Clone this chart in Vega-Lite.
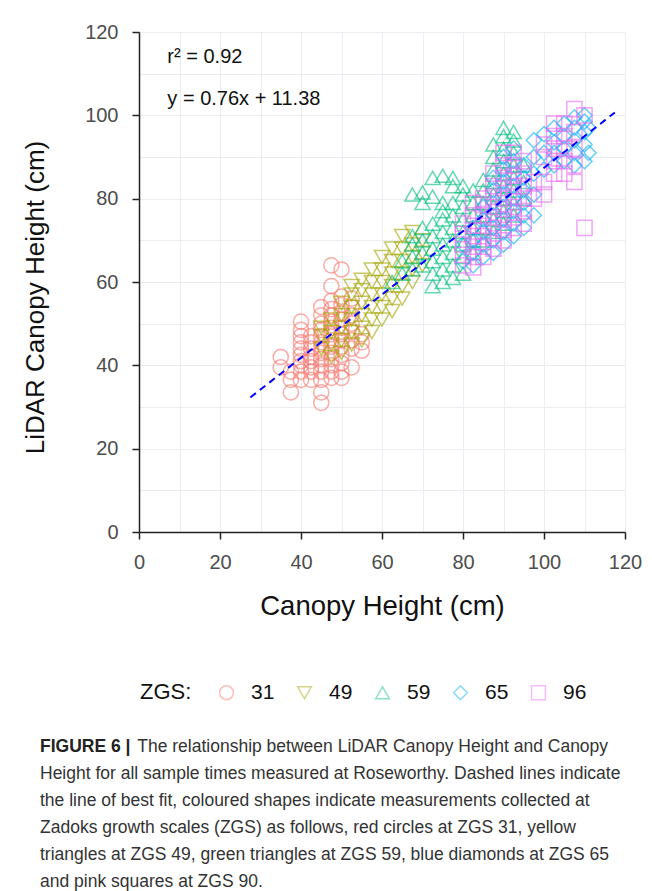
{
  "$schema": "https://vega.github.io/schema/vega-lite/v6.json",
  "width": 486,
  "height": 500,
  "autosize": {"type": "none"},
  "padding": {"left": 139, "top": 32, "right": 27, "bottom": 359},
  "background": "white",
  "config": {
    "font": "Liberation Sans",
    "view": {"stroke": null},
    "axis": {
      "grid": true,
      "gridColor": "#ebedf3",
      "gridWidth": 1,
      "domainColor": "#222222",
      "domainWidth": 1.5,
      "tickColor": "#222222",
      "tickWidth": 1.5,
      "tickSize": 7,
      "labelFontSize": 20,
      "labelColor": "#4d4d4d",
      "labelOverlap": false,
      "labelFlush": false,
      "titleFontWeight": "normal",
      "titleColor": "#111111"
    },
    "legend": {
      "orient": "none",
      "legendX": 1,
      "legendY": 650,
      "direction": "horizontal",
      "titleOrient": "left",
      "titleFontSize": 22,
      "titleFontWeight": "normal",
      "titleColor": "#111111",
      "titlePadding": 24,
      "titleBaseline": "middle",
      "labelFontSize": 21,
      "labelColor": "#111111",
      "labelOffset": 14,
      "columnPadding": 19,
      "symbolSize": 190,
      "symbolStrokeWidth": 1.5,
      "symbolOpacity": 0.45
    }
  },
  "title": {
    "text": "FIGURE 6 |",
    "subtitle": [
      "\u200b\u00a0\u00a0\u00a0\u00a0\u00a0\u00a0\u00a0\u00a0\u00a0\u00a0\u00a0\u00a0\u00a0\u00a0\u00a0\u00a0\u00a0\u00a0\u00a0\u00a0The relationship between LiDAR Canopy Height and Canopy",
      "Height for all sample times measured at Roseworthy. Dashed lines indicate",
      "the line of best fit, coloured shapes indicate measurements collected at",
      "Zadoks growth scales (ZGS) as follows, red circles at ZGS 31, yellow",
      "triangles at ZGS 49, green triangles at ZGS 59, blue diamonds at ZGS 65",
      "and pink squares at ZGS 90."
    ],
    "orient": "bottom",
    "anchor": "start",
    "frame": "group",
    "dx": -99,
    "offset": 35,
    "font": "Liberation Sans",
    "fontSize": 17.5,
    "fontWeight": "bold",
    "color": "#222222",
    "subtitleFont": "Liberation Sans",
    "subtitleFontSize": 17.5,
    "subtitleColor": "#333333",
    "subtitleLineHeight": 27,
    "subtitlePadding": -17.5,
    "limit": 1000
  },
  "datasets": {
    "pts": [
      {"canopy":35,"lidar":39.5,"zgs":"31"},{"canopy":35,"lidar":42,"zgs":"31"},
      {"canopy":37.5,"lidar":33.5,"zgs":"31"},{"canopy":37.5,"lidar":36.5,"zgs":"31"},{"canopy":37.5,"lidar":38.5,"zgs":"31"},
      {"canopy":40,"lidar":50.5,"zgs":"31"},{"canopy":40,"lidar":48.5,"zgs":"31"},{"canopy":40,"lidar":47,"zgs":"31"},{"canopy":40,"lidar":45.5,"zgs":"31"},{"canopy":40,"lidar":44,"zgs":"31"},{"canopy":40,"lidar":42.5,"zgs":"31"},{"canopy":40,"lidar":41,"zgs":"31"},{"canopy":40,"lidar":40,"zgs":"31"},{"canopy":40,"lidar":38.5,"zgs":"31"},{"canopy":40,"lidar":36.5,"zgs":"31"},
      {"canopy":42.5,"lidar":47,"zgs":"31"},{"canopy":42.5,"lidar":45.5,"zgs":"31"},{"canopy":42.5,"lidar":44,"zgs":"31"},{"canopy":42.5,"lidar":42,"zgs":"31"},{"canopy":42.5,"lidar":41,"zgs":"31"},{"canopy":42.5,"lidar":39.5,"zgs":"31"},{"canopy":42.5,"lidar":38.5,"zgs":"31"},{"canopy":42.5,"lidar":36.5,"zgs":"31"},
      {"canopy":45,"lidar":54,"zgs":"31"},{"canopy":45,"lidar":52,"zgs":"31"},{"canopy":45,"lidar":50,"zgs":"31"},{"canopy":45,"lidar":48.5,"zgs":"31"},{"canopy":45,"lidar":47,"zgs":"31"},{"canopy":45,"lidar":45.5,"zgs":"31"},{"canopy":45,"lidar":44,"zgs":"31"},{"canopy":45,"lidar":43,"zgs":"31"},{"canopy":45,"lidar":41.5,"zgs":"31"},{"canopy":45,"lidar":40,"zgs":"31"},{"canopy":45,"lidar":38.5,"zgs":"31"},{"canopy":45,"lidar":36.5,"zgs":"31"},{"canopy":45,"lidar":33.5,"zgs":"31"},{"canopy":45,"lidar":31,"zgs":"31"},
      {"canopy":47.5,"lidar":64,"zgs":"31"},{"canopy":47.5,"lidar":59,"zgs":"31"},{"canopy":47.5,"lidar":55.5,"zgs":"31"},{"canopy":47.5,"lidar":53.5,"zgs":"31"},{"canopy":47.5,"lidar":52,"zgs":"31"},{"canopy":47.5,"lidar":50.5,"zgs":"31"},{"canopy":47.5,"lidar":49,"zgs":"31"},{"canopy":47.5,"lidar":47.5,"zgs":"31"},{"canopy":47.5,"lidar":46,"zgs":"31"},{"canopy":47.5,"lidar":44.5,"zgs":"31"},{"canopy":47.5,"lidar":43,"zgs":"31"},{"canopy":47.5,"lidar":41.5,"zgs":"31"},{"canopy":47.5,"lidar":40,"zgs":"31"},{"canopy":47.5,"lidar":38.5,"zgs":"31"},{"canopy":47.5,"lidar":37,"zgs":"31"},
      {"canopy":50,"lidar":63,"zgs":"31"},{"canopy":50,"lidar":56.5,"zgs":"31"},{"canopy":50,"lidar":54.5,"zgs":"31"},{"canopy":50,"lidar":52.5,"zgs":"31"},{"canopy":50,"lidar":51,"zgs":"31"},{"canopy":50,"lidar":49,"zgs":"31"},{"canopy":50,"lidar":47.5,"zgs":"31"},{"canopy":50,"lidar":46,"zgs":"31"},{"canopy":50,"lidar":44.5,"zgs":"31"},{"canopy":50,"lidar":42.5,"zgs":"31"},{"canopy":50,"lidar":40.5,"zgs":"31"},{"canopy":50,"lidar":38.5,"zgs":"31"},{"canopy":50,"lidar":37,"zgs":"31"},
      {"canopy":52.5,"lidar":56,"zgs":"31"},{"canopy":52.5,"lidar":54,"zgs":"31"},{"canopy":52.5,"lidar":52,"zgs":"31"},{"canopy":52.5,"lidar":50,"zgs":"31"},{"canopy":52.5,"lidar":48,"zgs":"31"},{"canopy":52.5,"lidar":46,"zgs":"31"},{"canopy":52.5,"lidar":44,"zgs":"31"},{"canopy":52.5,"lidar":39.5,"zgs":"31"},
      {"canopy":55,"lidar":47.5,"zgs":"31"},{"canopy":55,"lidar":45.5,"zgs":"31"},{"canopy":55,"lidar":43.5,"zgs":"31"},

      {"canopy":45,"lidar":44,"zgs":"49"},{"canopy":45,"lidar":47,"zgs":"49"},{"canopy":45,"lidar":49,"zgs":"49"},
      {"canopy":47.5,"lidar":42,"zgs":"49"},{"canopy":47.5,"lidar":45,"zgs":"49"},{"canopy":47.5,"lidar":48,"zgs":"49"},{"canopy":47.5,"lidar":51,"zgs":"49"},
      {"canopy":50,"lidar":43,"zgs":"49"},{"canopy":50,"lidar":46,"zgs":"49"},{"canopy":50,"lidar":49,"zgs":"49"},{"canopy":50,"lidar":52,"zgs":"49"},{"canopy":50,"lidar":55,"zgs":"49"},
      {"canopy":52.5,"lidar":45,"zgs":"49"},{"canopy":52.5,"lidar":48,"zgs":"49"},{"canopy":52.5,"lidar":51,"zgs":"49"},{"canopy":52.5,"lidar":54,"zgs":"49"},{"canopy":52.5,"lidar":57,"zgs":"49"},{"canopy":52.5,"lidar":59,"zgs":"49"},
      {"canopy":55,"lidar":46,"zgs":"49"},{"canopy":55,"lidar":49,"zgs":"49"},{"canopy":55,"lidar":52,"zgs":"49"},{"canopy":55,"lidar":55,"zgs":"49"},{"canopy":55,"lidar":58,"zgs":"49"},{"canopy":55,"lidar":60.5,"zgs":"49"},
      {"canopy":57.5,"lidar":48,"zgs":"49"},{"canopy":57.5,"lidar":51,"zgs":"49"},{"canopy":57.5,"lidar":54,"zgs":"49"},{"canopy":57.5,"lidar":57,"zgs":"49"},{"canopy":57.5,"lidar":60,"zgs":"49"},{"canopy":57.5,"lidar":63,"zgs":"49"},
      {"canopy":60,"lidar":51,"zgs":"49"},{"canopy":60,"lidar":54,"zgs":"49"},{"canopy":60,"lidar":57,"zgs":"49"},{"canopy":60,"lidar":60,"zgs":"49"},{"canopy":60,"lidar":63,"zgs":"49"},{"canopy":60,"lidar":66,"zgs":"49"},
      {"canopy":62.5,"lidar":53,"zgs":"49"},{"canopy":62.5,"lidar":56,"zgs":"49"},{"canopy":62.5,"lidar":59,"zgs":"49"},{"canopy":62.5,"lidar":62,"zgs":"49"},{"canopy":62.5,"lidar":65,"zgs":"49"},{"canopy":62.5,"lidar":68,"zgs":"49"},
      {"canopy":65,"lidar":56,"zgs":"49"},{"canopy":65,"lidar":59,"zgs":"49"},{"canopy":65,"lidar":62,"zgs":"49"},{"canopy":65,"lidar":65,"zgs":"49"},{"canopy":65,"lidar":68,"zgs":"49"},{"canopy":65,"lidar":71,"zgs":"49"},
      {"canopy":67.5,"lidar":60,"zgs":"49"},{"canopy":67.5,"lidar":63,"zgs":"49"},{"canopy":67.5,"lidar":66,"zgs":"49"},{"canopy":67.5,"lidar":69,"zgs":"49"},{"canopy":67.5,"lidar":72,"zgs":"49"},
      {"canopy":70,"lidar":64,"zgs":"49"},{"canopy":70,"lidar":67,"zgs":"49"},{"canopy":70,"lidar":70,"zgs":"49"},

      {"canopy":62.5,"lidar":60,"zgs":"59"},
      {"canopy":65,"lidar":62,"zgs":"59"},{"canopy":65,"lidar":65,"zgs":"59"},
      {"canopy":67.5,"lidar":63,"zgs":"59"},{"canopy":67.5,"lidar":66,"zgs":"59"},{"canopy":67.5,"lidar":69,"zgs":"59"},{"canopy":67.5,"lidar":71,"zgs":"59"},{"canopy":67.5,"lidar":81,"zgs":"59"},
      {"canopy":70,"lidar":64,"zgs":"59"},{"canopy":70,"lidar":67,"zgs":"59"},{"canopy":70,"lidar":70,"zgs":"59"},{"canopy":70,"lidar":73,"zgs":"59"},{"canopy":70,"lidar":79,"zgs":"59"},{"canopy":70,"lidar":81.5,"zgs":"59"},
      {"canopy":72.5,"lidar":59,"zgs":"59"},{"canopy":72.5,"lidar":62,"zgs":"59"},{"canopy":72.5,"lidar":65,"zgs":"59"},{"canopy":72.5,"lidar":68,"zgs":"59"},{"canopy":72.5,"lidar":71,"zgs":"59"},{"canopy":72.5,"lidar":74,"zgs":"59"},{"canopy":72.5,"lidar":80.5,"zgs":"59"},{"canopy":72.5,"lidar":85,"zgs":"59"},
      {"canopy":75,"lidar":60,"zgs":"59"},{"canopy":75,"lidar":63,"zgs":"59"},{"canopy":75,"lidar":66,"zgs":"59"},{"canopy":75,"lidar":69,"zgs":"59"},{"canopy":75,"lidar":72,"zgs":"59"},{"canopy":75,"lidar":75,"zgs":"59"},{"canopy":75,"lidar":77,"zgs":"59"},{"canopy":75,"lidar":79,"zgs":"59"},{"canopy":75,"lidar":85.5,"zgs":"59"},
      {"canopy":77.5,"lidar":61,"zgs":"59"},{"canopy":77.5,"lidar":64,"zgs":"59"},{"canopy":77.5,"lidar":67,"zgs":"59"},{"canopy":77.5,"lidar":70,"zgs":"59"},{"canopy":77.5,"lidar":73,"zgs":"59"},{"canopy":77.5,"lidar":76,"zgs":"59"},{"canopy":77.5,"lidar":79,"zgs":"59"},{"canopy":77.5,"lidar":83,"zgs":"59"},{"canopy":77.5,"lidar":85,"zgs":"59"},
      {"canopy":80,"lidar":62,"zgs":"59"},{"canopy":80,"lidar":66,"zgs":"59"},{"canopy":80,"lidar":69,"zgs":"59"},{"canopy":80,"lidar":72,"zgs":"59"},{"canopy":80,"lidar":75,"zgs":"59"},{"canopy":80,"lidar":78,"zgs":"59"},{"canopy":80,"lidar":81,"zgs":"59"},{"canopy":80,"lidar":83,"zgs":"59"},
      {"canopy":82.5,"lidar":67,"zgs":"59"},{"canopy":82.5,"lidar":70,"zgs":"59"},{"canopy":82.5,"lidar":73,"zgs":"59"},{"canopy":82.5,"lidar":76,"zgs":"59"},{"canopy":82.5,"lidar":79,"zgs":"59"},{"canopy":82.5,"lidar":82,"zgs":"59"},
      {"canopy":85,"lidar":70,"zgs":"59"},{"canopy":85,"lidar":73,"zgs":"59"},{"canopy":85,"lidar":76,"zgs":"59"},{"canopy":85,"lidar":79,"zgs":"59"},{"canopy":85,"lidar":82,"zgs":"59"},{"canopy":85,"lidar":84.5,"zgs":"59"},
      {"canopy":87.5,"lidar":72,"zgs":"59"},{"canopy":87.5,"lidar":75,"zgs":"59"},{"canopy":87.5,"lidar":78,"zgs":"59"},{"canopy":87.5,"lidar":81,"zgs":"59"},{"canopy":87.5,"lidar":84,"zgs":"59"},{"canopy":87.5,"lidar":87,"zgs":"59"},{"canopy":87.5,"lidar":90,"zgs":"59"},{"canopy":87.5,"lidar":93,"zgs":"59"},
      {"canopy":90,"lidar":74,"zgs":"59"},{"canopy":90,"lidar":77,"zgs":"59"},{"canopy":90,"lidar":80,"zgs":"59"},{"canopy":90,"lidar":83,"zgs":"59"},{"canopy":90,"lidar":86,"zgs":"59"},{"canopy":90,"lidar":89,"zgs":"59"},{"canopy":90,"lidar":92,"zgs":"59"},{"canopy":90,"lidar":95,"zgs":"59"},{"canopy":90,"lidar":97,"zgs":"59"},
      {"canopy":92.5,"lidar":76,"zgs":"59"},{"canopy":92.5,"lidar":79,"zgs":"59"},{"canopy":92.5,"lidar":82,"zgs":"59"},{"canopy":92.5,"lidar":85,"zgs":"59"},{"canopy":92.5,"lidar":88,"zgs":"59"},{"canopy":92.5,"lidar":91,"zgs":"59"},{"canopy":92.5,"lidar":94,"zgs":"59"},{"canopy":92.5,"lidar":96,"zgs":"59"},
      {"canopy":95,"lidar":80,"zgs":"59"},{"canopy":95,"lidar":84,"zgs":"59"},{"canopy":95,"lidar":88,"zgs":"59"},

      {"canopy":80,"lidar":65,"zgs":"65"},{"canopy":80,"lidar":69,"zgs":"65"},
      {"canopy":82.5,"lidar":64,"zgs":"65"},{"canopy":82.5,"lidar":67,"zgs":"65"},{"canopy":82.5,"lidar":70,"zgs":"65"},{"canopy":82.5,"lidar":73,"zgs":"65"},
      {"canopy":85,"lidar":66,"zgs":"65"},{"canopy":85,"lidar":69,"zgs":"65"},{"canopy":85,"lidar":72,"zgs":"65"},{"canopy":85,"lidar":75,"zgs":"65"},{"canopy":85,"lidar":78,"zgs":"65"},
      {"canopy":87.5,"lidar":67,"zgs":"65"},{"canopy":87.5,"lidar":70,"zgs":"65"},{"canopy":87.5,"lidar":73,"zgs":"65"},{"canopy":87.5,"lidar":76,"zgs":"65"},{"canopy":87.5,"lidar":79,"zgs":"65"},{"canopy":87.5,"lidar":82,"zgs":"65"},{"canopy":87.5,"lidar":85,"zgs":"65"},
      {"canopy":90,"lidar":69,"zgs":"65"},{"canopy":90,"lidar":72,"zgs":"65"},{"canopy":90,"lidar":75,"zgs":"65"},{"canopy":90,"lidar":78,"zgs":"65"},{"canopy":90,"lidar":81,"zgs":"65"},{"canopy":90,"lidar":84,"zgs":"65"},{"canopy":90,"lidar":87,"zgs":"65"},{"canopy":90,"lidar":90,"zgs":"65"},
      {"canopy":92.5,"lidar":71,"zgs":"65"},{"canopy":92.5,"lidar":74,"zgs":"65"},{"canopy":92.5,"lidar":77,"zgs":"65"},{"canopy":92.5,"lidar":80,"zgs":"65"},{"canopy":92.5,"lidar":83,"zgs":"65"},{"canopy":92.5,"lidar":86,"zgs":"65"},{"canopy":92.5,"lidar":89,"zgs":"65"},{"canopy":92.5,"lidar":92,"zgs":"65"},
      {"canopy":95,"lidar":73,"zgs":"65"},{"canopy":95,"lidar":76,"zgs":"65"},{"canopy":95,"lidar":79,"zgs":"65"},{"canopy":95,"lidar":82,"zgs":"65"},{"canopy":95,"lidar":85,"zgs":"65"},{"canopy":95,"lidar":88,"zgs":"65"},
      {"canopy":97.5,"lidar":76,"zgs":"65"},{"canopy":97.5,"lidar":81,"zgs":"65"},{"canopy":97.5,"lidar":86,"zgs":"65"},{"canopy":97.5,"lidar":90,"zgs":"65"},{"canopy":97.5,"lidar":94,"zgs":"65"},
      {"canopy":100,"lidar":87,"zgs":"65"},{"canopy":100,"lidar":91,"zgs":"65"},{"canopy":100,"lidar":95.5,"zgs":"65"},
      {"canopy":102.5,"lidar":88,"zgs":"65"},{"canopy":102.5,"lidar":91,"zgs":"65"},{"canopy":102.5,"lidar":93.5,"zgs":"65"},{"canopy":102.5,"lidar":97,"zgs":"65"},
      {"canopy":105,"lidar":89,"zgs":"65"},{"canopy":105,"lidar":92,"zgs":"65"},{"canopy":105,"lidar":95,"zgs":"65"},{"canopy":105,"lidar":98,"zgs":"65"},
      {"canopy":107.5,"lidar":88,"zgs":"65"},{"canopy":107.5,"lidar":91,"zgs":"65"},{"canopy":107.5,"lidar":94,"zgs":"65"},{"canopy":107.5,"lidar":97,"zgs":"65"},{"canopy":107.5,"lidar":99.5,"zgs":"65"},
      {"canopy":110,"lidar":89,"zgs":"65"},{"canopy":110,"lidar":93,"zgs":"65"},{"canopy":110,"lidar":96,"zgs":"65"},{"canopy":110,"lidar":98.5,"zgs":"65"},{"canopy":110,"lidar":100,"zgs":"65"},
      {"canopy":111,"lidar":91,"zgs":"65"},{"canopy":111,"lidar":97,"zgs":"65"},

      {"canopy":80,"lidar":64,"zgs":"96"},{"canopy":80,"lidar":66.5,"zgs":"96"},{"canopy":80,"lidar":69,"zgs":"96"},{"canopy":80,"lidar":71.5,"zgs":"96"},{"canopy":80,"lidar":74,"zgs":"96"},
      {"canopy":82.5,"lidar":63.5,"zgs":"96"},{"canopy":82.5,"lidar":66,"zgs":"96"},{"canopy":82.5,"lidar":68.5,"zgs":"96"},{"canopy":82.5,"lidar":71,"zgs":"96"},{"canopy":82.5,"lidar":73.5,"zgs":"96"},{"canopy":82.5,"lidar":76,"zgs":"96"},{"canopy":82.5,"lidar":79,"zgs":"96"},
      {"canopy":85,"lidar":66,"zgs":"96"},{"canopy":85,"lidar":68.5,"zgs":"96"},{"canopy":85,"lidar":71,"zgs":"96"},{"canopy":85,"lidar":73.5,"zgs":"96"},{"canopy":85,"lidar":76,"zgs":"96"},{"canopy":85,"lidar":78.5,"zgs":"96"},{"canopy":85,"lidar":80,"zgs":"96"},
      {"canopy":87.5,"lidar":68,"zgs":"96"},{"canopy":87.5,"lidar":70.5,"zgs":"96"},{"canopy":87.5,"lidar":73,"zgs":"96"},{"canopy":87.5,"lidar":75.5,"zgs":"96"},{"canopy":87.5,"lidar":78,"zgs":"96"},{"canopy":87.5,"lidar":80.5,"zgs":"96"},{"canopy":87.5,"lidar":83,"zgs":"96"},{"canopy":87.5,"lidar":86,"zgs":"96"},
      {"canopy":90,"lidar":70,"zgs":"96"},{"canopy":90,"lidar":72.5,"zgs":"96"},{"canopy":90,"lidar":75,"zgs":"96"},{"canopy":90,"lidar":77.5,"zgs":"96"},{"canopy":90,"lidar":80,"zgs":"96"},{"canopy":90,"lidar":82.5,"zgs":"96"},{"canopy":90,"lidar":85,"zgs":"96"},{"canopy":90,"lidar":88,"zgs":"96"},{"canopy":90,"lidar":91,"zgs":"96"},
      {"canopy":92.5,"lidar":73,"zgs":"96"},{"canopy":92.5,"lidar":75.5,"zgs":"96"},{"canopy":92.5,"lidar":78,"zgs":"96"},{"canopy":92.5,"lidar":80.5,"zgs":"96"},{"canopy":92.5,"lidar":83,"zgs":"96"},{"canopy":92.5,"lidar":85.5,"zgs":"96"},{"canopy":92.5,"lidar":88,"zgs":"96"},{"canopy":92.5,"lidar":91,"zgs":"96"},
      {"canopy":95,"lidar":74,"zgs":"96"},{"canopy":95,"lidar":77,"zgs":"96"},{"canopy":95,"lidar":80,"zgs":"96"},{"canopy":95,"lidar":83,"zgs":"96"},{"canopy":95,"lidar":86,"zgs":"96"},{"canopy":95,"lidar":89,"zgs":"96"},
      {"canopy":97.5,"lidar":80,"zgs":"96"},{"canopy":97.5,"lidar":84,"zgs":"96"},
      {"canopy":100,"lidar":81,"zgs":"96"},{"canopy":100,"lidar":84,"zgs":"96"},{"canopy":100,"lidar":90,"zgs":"96"},{"canopy":100,"lidar":93,"zgs":"96"},
      {"canopy":102.5,"lidar":86,"zgs":"96"},{"canopy":102.5,"lidar":89,"zgs":"96"},{"canopy":102.5,"lidar":92,"zgs":"96"},{"canopy":102.5,"lidar":95,"zgs":"96"},{"canopy":102.5,"lidar":98,"zgs":"96"},
      {"canopy":105,"lidar":86,"zgs":"96"},{"canopy":105,"lidar":89,"zgs":"96"},{"canopy":105,"lidar":92,"zgs":"96"},{"canopy":105,"lidar":95,"zgs":"96"},{"canopy":105,"lidar":98,"zgs":"96"},
      {"canopy":107.5,"lidar":84,"zgs":"96"},{"canopy":107.5,"lidar":88,"zgs":"96"},{"canopy":107.5,"lidar":92,"zgs":"96"},{"canopy":107.5,"lidar":96,"zgs":"96"},{"canopy":107.5,"lidar":101.5,"zgs":"96"},
      {"canopy":110,"lidar":73,"zgs":"96"},{"canopy":110,"lidar":100,"zgs":"96"}
    ],
    "fit": [
      {"canopy": 27.5, "lidar": 32.3},
      {"canopy": 117.5, "lidar": 100.7}
    ],
    "notes": [
      {"label": "r\u00b2 = 0.92", "canopy": 7, "lidar": 114},
      {"label": "y = 0.76x + 11.38", "canopy": 7, "lidar": 104}
    ]
  },
  "layer": [
    {
      "data": {"name": "pts"},
      "mark": {"type": "point", "filled": false, "strokeWidth": 1.5, "opacity": 0.6, "size": 230},
      "encoding": {
        "x": {
          "field": "canopy", "type": "quantitative",
          "scale": {"domain": [0, 120], "nice": false, "zero": false},
          "title": "Canopy Height (cm)",
          "axis": {
            "values": [0,10,20,30,40,50,60,70,80,90,100,110,120],
            "labelExpr": "datum.value % 20 === 0 ? datum.label : ''",
            "tickOpacity": {"condition": {"test": "datum.value % 20 === 0", "value": 1}, "value": 0},
            "labelPadding": 13,
            "titleFontSize": 27.5,
            "titlePadding": 20
          }
        },
        "y": {
          "field": "lidar", "type": "quantitative",
          "scale": {"domain": [0, 120], "nice": false, "zero": false},
          "title": "LiDAR Canopy Height (cm)",
          "axis": {
            "values": [0,10,20,30,40,50,60,70,80,90,100,110,120],
            "labelExpr": "datum.value % 20 === 0 ? datum.label : ''",
            "tickOpacity": {"condition": {"test": "datum.value % 20 === 0", "value": 1}, "value": 0},
            "labelPadding": 14,
            "titleFontSize": 26,
            "titlePadding": 36,
            "titleY": 265
          }
        },
        "color": {
          "field": "zgs", "type": "nominal",
          "scale": {"domain": ["31","49","59","65","96"], "range": ["#F8766D","#A3A500","#00BF7D","#00B0F6","#E76BF3"]},
          "legend": {"title": "ZGS:"}
        },
        "shape": {
          "field": "zgs", "type": "nominal",
          "scale": {"domain": ["31","49","59","65","96"], "range": ["circle","triangle-down","triangle-up","diamond","square"]},
          "legend": {"title": "ZGS:"}
        }
      }
    },
    {
      "data": {"name": "fit"},
      "mark": {"type": "line", "color": "#0000ff", "strokeDash": [7, 5], "strokeWidth": 2},
      "encoding": {
        "x": {"field": "canopy", "type": "quantitative"},
        "y": {"field": "lidar", "type": "quantitative"}
      }
    },
    {
      "data": {"name": "notes"},
      "mark": {"type": "text", "align": "left", "baseline": "middle", "fontSize": 20, "color": "#111111"},
      "encoding": {
        "x": {"field": "canopy", "type": "quantitative"},
        "y": {"field": "lidar", "type": "quantitative"},
        "text": {"field": "label"}
      }
    }
  ]
}
